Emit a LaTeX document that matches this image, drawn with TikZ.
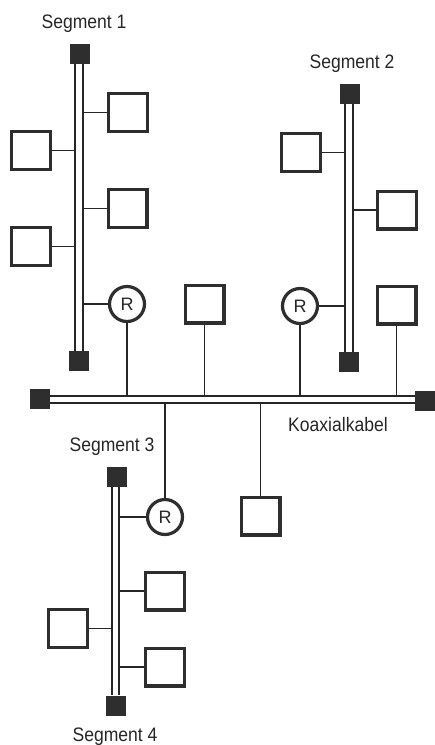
\documentclass[tikz,border=0pt]{standalone}
\usepackage{fontspec}
\setmainfont{Liberation Sans}
\begin{document}
\begin{tikzpicture}[x=1pt,y=-1pt,
  station/.style={draw=black!82,line width=3.4pt,minimum width=38.6pt,minimum height=37.6pt,inner sep=0pt},
  router/.style={circle,draw=black!82,line width=3.2pt,minimum size=35pt,inner sep=0pt,font=\fontsize{18}{18}\selectfont,text=black!85},
  term/.style={fill=black!82,minimum size=20pt,inner sep=0pt},
  cab/.style={black!85,line width=1.2pt},
  lab/.style={anchor=base,inner sep=0pt,font=\fontsize{19.5}{19.5}\selectfont,text=black!85,xscale=0.9}]
\useasboundingbox (0,0) rectangle (435,745);
% labels
\node[lab] (l1) at (84,28.3) {Segment 1};
\node[lab] (l2) at (352,68.3) {Segment 2};
\node[lab] (l3) at (112,451) {Segment 3};
\node[lab] (l4) at (115,741) {Segment 4};
\node[lab] (lk) at (338,431.5) {Koaxialkabel};
% main cable
\node[term] (mL) at (40,399) {};
\node[term] (mR) at (425,401) {};
\draw[cab] (mL.east |- 0,396) -- (mR.west |- 0,396);
\draw[cab] (mL.east |- 0,403) -- (mR.west |- 0,403);
\coordinate (mt) at (0,396);
\coordinate (mb) at (0,403);
% segment 1
\node[term] (t1a) at (80,54) {};
\node[term] (t1b) at (79,361) {};
\coordinate (c1L) at (75,0);
\coordinate (c1R) at (83,0);
\draw[cab] (t1a.south -| c1L) -- (t1b.north -| c1L);
\draw[cab] (t1a.south -| c1R) -- (t1b.north -| c1R);
\node[station] (s1a) at (128,112.5) {};
\node[station] (s1b) at (31,150.5) {};
\node[station] (s1c) at (127.5,208.5) {};
\node[station] (s1d) at (31,246.5) {};
\node[router] (r1) at (127,304) {R};
\draw[cab] (s1a.west) -- (s1a.west -| c1R);
\draw[cab] (s1b.east) -- (s1b.east -| c1L);
\draw[cab] (s1c.west) -- (s1c.west -| c1R);
\draw[cab] (s1d.east) -- (s1d.east -| c1L);
\draw[cab] (r1.west) -- (r1.west -| c1R);
\draw[cab] (r1.south) -- (r1.south |- mt);
\node[station] (m1) at (204.5,304) {};
\draw[cab] (m1.south) -- (m1.south |- mt);
% segment 2
\node[term] (t2a) at (350,94) {};
\node[term] (t2b) at (349,362) {};
\coordinate (c2L) at (345,0);
\coordinate (c2R) at (353,0);
\draw[cab] (t2a.south -| c2L) -- (t2b.north -| c2L);
\draw[cab] (t2a.south -| c2R) -- (t2b.north -| c2R);
\node[station] (s2a) at (301,152.5) {};
\node[station] (s2b) at (397,210) {};
\node[router] (r2) at (300,306) {R};
\draw[cab] (s2a.east) -- (s2a.east -| c2L);
\draw[cab] (s2b.west) -- (s2b.west -| c2R);
\draw[cab] (r2.east) -- (r2.east -| c2L);
\draw[cab] (r2.south) -- (r2.south |- mt);
\node[station] (m2) at (396.5,305) {};
\draw[cab] (m2.south) -- (m2.south |- mt);
% below main cable
\node[station] (m3) at (260.5,516) {};
\draw[cab] (m3.north) -- (m3.north |- mb);
% segment 3
\node[term] (t3a) at (116.5,477) {};
\node[term] (t3b) at (115.5,705.5) {};
\coordinate (c3L) at (112,0);
\coordinate (c3R) at (119,0);
\draw[cab] (t3a.south -| c3L) -- (t3b.north -| c3L);
\draw[cab] (t3a.south -| c3R) -- (t3b.north -| c3R);
\node[router] (r3) at (165,517) {R};
\draw[cab] (r3.north) -- (r3.north |- mb);
\draw[cab] (r3.west) -- (r3.west -| c3R);
\node[station] (s3a) at (165,591) {};
\node[station] (s3b) at (68,628.5) {};
\node[station] (s3c) at (165,667) {};
\draw[cab] (s3a.west) -- (s3a.west -| c3R);
\draw[cab] (s3b.east) -- (s3b.east -| c3L);
\draw[cab] (s3c.west) -- (s3c.west -| c3R);
\end{tikzpicture}
\end{document}
